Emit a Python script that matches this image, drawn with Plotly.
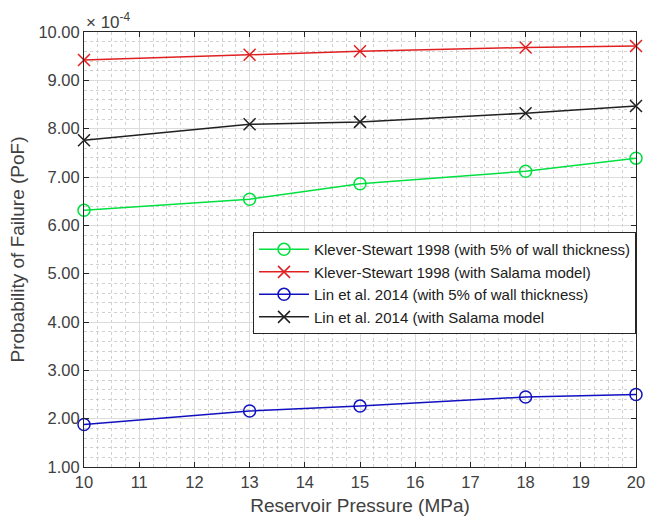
import plotly.graph_objects as go

pressure = [10, 13, 15, 18, 20]
ks_wall = [6.31, 6.54, 6.86, 7.12, 7.39]
ks_salama = [9.42, 9.53, 9.60, 9.68, 9.71]
lin_wall = [1.88, 2.16, 2.26, 2.45, 2.50]
lin_salama = [7.76, 8.09, 8.14, 8.32, 8.47]

names = [
    "Klever-Stewart 1998 (with 5% of wall thickness)",
    "Klever-Stewart 1998 (with Salama model)",
    "Lin et al. 2014 (with 5% of wall thickness)",
    "Lin et al. 2014 (with Salama model",
]
series = [ks_wall, ks_salama, lin_wall, lin_salama]
colors = ["#00e040", "#e02020", "#1010c0", "#202020"]
symbols = ["circle-open", "x-thin-open", "circle-open", "x-thin-open"]

FONT = "Liberation Sans, Arial"
TXT = "#404040"

fig = go.Figure()
for n, s, c, sym in zip(names, series, colors, symbols):
    fig.add_trace(go.Scatter(
        x=pressure, y=s, name=n, mode="lines+markers",
        line=dict(color=c, width=1.5),
        marker=dict(symbol=sym, size=12, color=c, line=dict(color=c, width=1.5)),
        cliponaxis=False,
    ))

axis_common = dict(
    showline=True, linecolor="#262626", linewidth=1, mirror="ticks",
    ticks="inside", ticklen=5, tickcolor="#262626",
    showgrid=True, gridcolor="#dcdcdc", gridwidth=1,
    zeroline=False, automargin=False, ticklabeloverflow="allow",
    tickfont=dict(family=FONT, size=16.5, color=TXT),
)

fig.update_xaxes(
    range=[10, 20], dtick=1, tick0=10,
    title=dict(text="Reservoir Pressure (MPa)", font=dict(family=FONT, size=19, color=TXT), standoff=8),
    minor=dict(dtick=0.25, showgrid=True, gridcolor="#d0d0d0", griddash="dot", gridwidth=1),
    **axis_common,
)
fig.update_yaxes(
    range=[1, 10], dtick=1, tick0=1, tickformat=".2f",
    title=dict(text="Probability of Failure (PoF)", font=dict(family=FONT, size=19, color=TXT), standoff=8),
    minor=dict(dtick=0.2, showgrid=True, gridcolor="#d0d0d0", griddash="dot", gridwidth=1),
    **axis_common,
)

fig.add_annotation(
    x=0, y=1, xref="paper", yref="paper", xanchor="left", yanchor="bottom",
    text="× 10<sup>-4</sup>", showarrow=False, yshift=-2,
    font=dict(family=FONT, size=17, color=TXT),
)

fig.update_layout(
    width=646, height=524,
    margin=dict(l=84, r=10, t=32, b=57),
    plot_bgcolor="white", paper_bgcolor="white",
    showlegend=True,
    legend=dict(
        x=1, y=0.54, xanchor="right", yanchor="top",
        bgcolor="white", bordercolor="#262626", borderwidth=1,
        font=dict(family=FONT, size=15, color="#202020"),
        tracegroupgap=0, itemwidth=50,
    ),
)

fig.write_html(
    "out.html",
    config={"displayModeBar": False},
    post_script="document.body.style.margin='0';document.body.style.overflow='hidden';",
)
